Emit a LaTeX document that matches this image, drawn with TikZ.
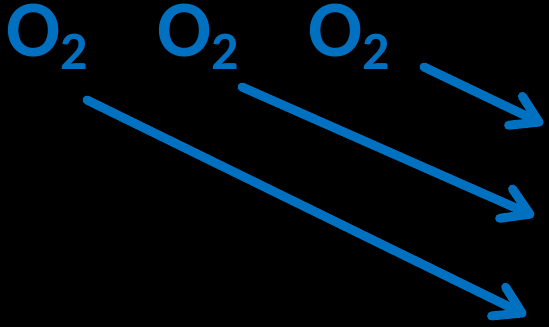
\documentclass[tikz,border=0pt]{standalone}
\usepackage{fontspec}
\setmainfont{Carlito}
\usepackage{tikz}
\usetikzlibrary{arrows.meta}
\definecolor{oxblue}{RGB}{0,112,192}

\begin{document}
\begin{tikzpicture}[
    x=1pt, y=-1pt,
    molecule/.style={anchor=base west, inner sep=0pt, text height=48pt, text=oxblue, font=\bfseries\fontsize{80}{80}\selectfont},
    flow/.style={draw=oxblue, line width=9pt, line cap=round, -{Straight Barb[length=26pt, width=32pt, round]}}
  ]
    \fill[black] (0,0) rectangle (549,327);

    \node[molecule] (oa) at (6,56) {O\raisebox{-13pt}{\fontsize{54}{54}\selectfont 2}};
    \node[molecule] (ob) at (157,56) {O\raisebox{-13pt}{\fontsize{54}{54}\selectfont 2}};
    \node[molecule] (oc) at (308,56) {O\raisebox{-13pt}{\fontsize{54}{54}\selectfont 2}};

    \coordinate (sa) at (87,100);
    \coordinate (ea) at (526,315);
    \coordinate (sb) at (242,87);
    \coordinate (eb) at (534,216);
    \coordinate (sc) at (424,67);
    \coordinate (ec) at (543,124);

    \draw[flow] (sa) -- (ea);
    \draw[flow] (sb) -- (eb);
    \draw[flow] (sc) -- (ec);
  \end{tikzpicture}
\end{document}
